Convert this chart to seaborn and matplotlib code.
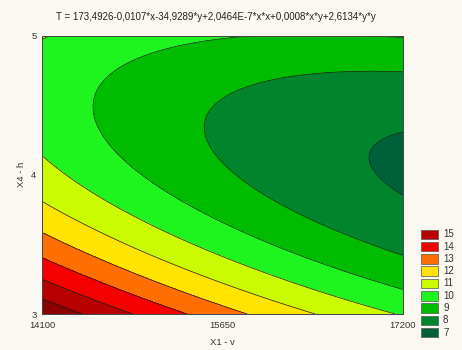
import numpy as np
import matplotlib
matplotlib.use("Agg")
import matplotlib.pyplot as plt
from matplotlib.patches import Rectangle
from matplotlib.ticker import FixedLocator, MultipleLocator
import seaborn as sns

# ---- data ----
title_text = "T = 173,4926-0,0107*x-34,9289*y+2,0464E-7*x*x+0,0008*x*y+2,6134*y*y"
# fitted response-surface coefficients (const, x, y, x*x, x*y, y*y) as drawn
surface_coefs = [174.2826, -0.010724, -35.0857, 2.0464e-7, 0.0008, 2.6134]
x_range = [14100, 17200]
y_range = [3, 5]
x_ticks = [14100, 15650, 17200]
y_ticks = [3, 4, 5]
levels = [7, 8, 9, 10, 11, 12, 13, 14, 15]
legend_labels = ["15", "14", "13", "12", "11", "10", "9", "8", "7"]
# colours of bands: <=7, 7-8, 8-9, ..., 14-15, >15
band_colors = ["#00603A", "#00842C", "#00BC00", "#1EF51E", "#CBFB00",
               "#FFE400", "#FF6E00", "#F50000", "#B80000", "#8C0000"]
x_label = "X1 - v"
y_label = "X4 - h"

bg = "#FBF8F1"
sns.set_style("white")
plt.rcParams["font.family"] = ["Liberation Sans", "DejaVu Sans"]

fig = plt.figure(figsize=(4.62, 3.5), dpi=100, facecolor=bg)
W, H = 462, 350
L, R, T, B = 42, 403, 35.5, 314
ax = fig.add_axes([L / W, 1 - B / H, (R - L) / W, (B - T) / H])

xs = np.linspace(x_range[0], x_range[1], 400)
ys = np.linspace(y_range[0], y_range[1], 400)
X, Y = np.meshgrid(xs, ys)
c0, cx, cy, cxx, cxy, cyy = surface_coefs
Z = c0 + cx * X + cy * Y + cxx * X * X + cxy * X * Y + cyy * Y * Y

fill_levels = [-1e3] + levels + [1e3]
ax.contourf(X, Y, Z, levels=fill_levels, colors=band_colors)
ax.contour(X, Y, Z, levels=levels, colors="#1a1a1a", linewidths=0.5)

ax.set_xlim(*x_range)
ax.set_ylim(*y_range)
ax.xaxis.set_major_locator(FixedLocator(x_ticks))
ax.yaxis.set_major_locator(FixedLocator(y_ticks))
ax.xaxis.set_minor_locator(MultipleLocator(500))
ax.yaxis.set_minor_locator(MultipleLocator(0.2))
ax.tick_params(which="both", direction="in", top=True, right=True,
               length=2.5, width=0.6, color="#333333", labelsize=6.8,
               labelcolor="#333333")
ax.tick_params(axis="x", which="major", pad=5)
ax.tick_params(axis="y", which="major", pad=4)
for s in ax.spines.values():
    s.set_linewidth(0.7)
    s.set_color("#444444")
    s.set_visible(True)

ax.set_xlabel(x_label, fontsize=6.8, color="#333333", labelpad=6)
ax.set_ylabel(y_label, fontsize=6.8, color="#333333", labelpad=4)

fig.text(216 / W, 1 - 17 / H, title_text, ha="center", va="center",
         fontsize=7.0, color="#222222")

# legend: label L shows the colour of the band just below level L
sw_x0, sw_w, sw_h = 421, 17, 9.5
top0 = 229.5
step = 12.3
legend_colors = band_colors[:len(levels)][::-1]
for i, (lab, col) in enumerate(zip(legend_labels, legend_colors)):
    yt = top0 + i * step
    fig.add_artist(Rectangle((sw_x0 / W, 1 - (yt + sw_h) / H), sw_w / W, sw_h / H,
                             transform=fig.transFigure, facecolor=col,
                             edgecolor="#555555", linewidth=0.5))
    fig.text(443 / W, 1 - (yt + sw_h / 2) / H, lab, ha="left", va="center",
             fontsize=7.0, color="#333333")

fig.savefig("out.png", dpi=100, facecolor=bg)
